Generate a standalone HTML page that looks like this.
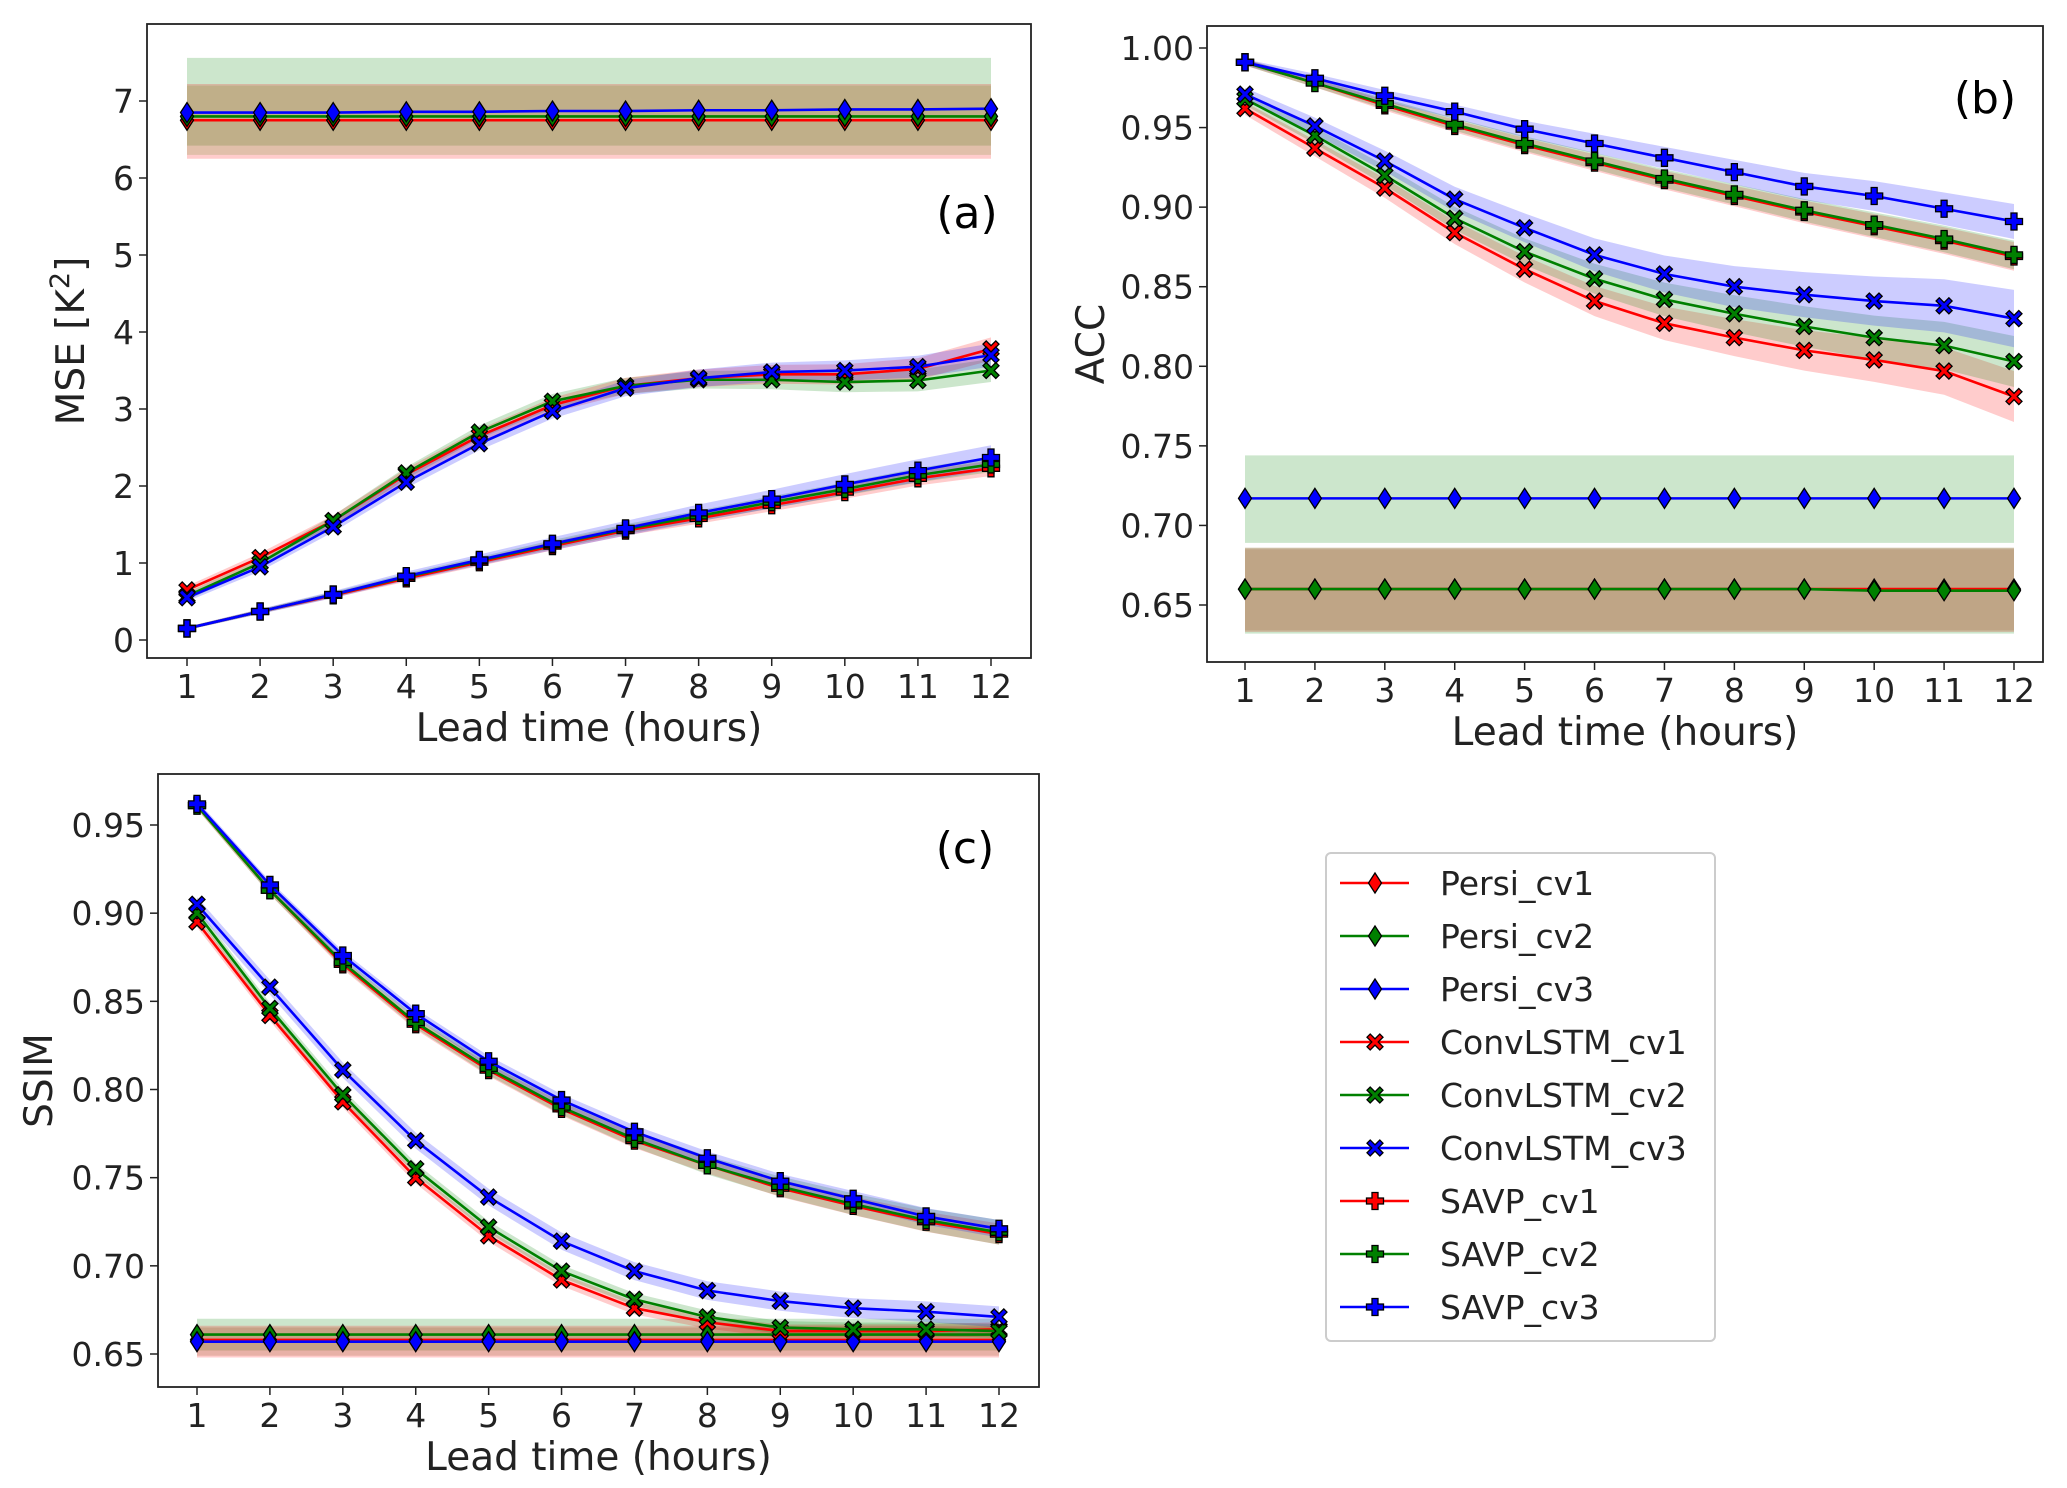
<!DOCTYPE html>
<html><head><meta charset="utf-8"><style>
html,body{margin:0;padding:0;background:#fff;}
svg{display:block;font-family:"DejaVu Sans","Liberation Sans",sans-serif;}
</style></head><body>
<svg id="fig" width="2067" height="1488" viewBox="0 0 2067 1488"></svg>
<script>
const hours=[1,2,3,4,5,6,7,8,9,10,11,12];
// (a) MSE
const mseTicks=[0,1,2,3,4,5,6,7];
const msePersi1=[6.75,6.75,6.75,6.75,6.75,6.75,6.75,6.75,6.75,6.75,6.75,6.75];
const msePersi2=[6.8,6.8,6.8,6.8,6.8,6.8,6.8,6.8,6.8,6.8,6.8,6.8];
const msePersi3=[6.85,6.85,6.85,6.86,6.86,6.87,6.87,6.88,6.88,6.89,6.89,6.9];
const mseConv1=[0.65,1.07,1.55,2.15,2.65,3.05,3.3,3.4,3.45,3.45,3.52,3.78];
const mseConv2=[0.57,1.0,1.55,2.17,2.7,3.1,3.3,3.38,3.38,3.35,3.37,3.5];
const mseConv3=[0.55,0.95,1.47,2.05,2.55,2.97,3.27,3.4,3.48,3.5,3.55,3.7];
const mseSavp1=[0.15,0.37,0.58,0.8,1.01,1.22,1.42,1.58,1.75,1.92,2.1,2.23];
const mseSavp2=[0.15,0.37,0.59,0.82,1.03,1.24,1.44,1.61,1.79,1.96,2.14,2.28];
const mseSavp3=[0.15,0.37,0.59,0.83,1.04,1.25,1.45,1.65,1.83,2.02,2.2,2.37];
// (b) ACC
const accTicks=[0.65,0.70,0.75,0.80,0.85,0.90,0.95,1.00];
const accPersi1=[0.660,0.660,0.660,0.660,0.660,0.660,0.660,0.660,0.660,0.660,0.660,0.660];
const accPersi2=[0.660,0.660,0.660,0.660,0.660,0.660,0.660,0.660,0.660,0.659,0.659,0.659];
const accPersi3=[0.717,0.717,0.717,0.717,0.717,0.717,0.717,0.717,0.717,0.717,0.717,0.717];
const accConv1=[0.962,0.937,0.912,0.884,0.861,0.841,0.827,0.818,0.810,0.804,0.797,0.781];
const accConv2=[0.968,0.945,0.920,0.893,0.872,0.855,0.842,0.833,0.825,0.818,0.813,0.803];
const accConv3=[0.971,0.951,0.929,0.905,0.887,0.870,0.858,0.850,0.845,0.841,0.838,0.830];
const accSavp1=[0.991,0.978,0.964,0.951,0.939,0.928,0.917,0.907,0.897,0.888,0.879,0.869];
const accSavp2=[0.991,0.978,0.965,0.952,0.940,0.929,0.918,0.908,0.898,0.889,0.880,0.870];
const accSavp3=[0.991,0.981,0.970,0.960,0.949,0.940,0.931,0.922,0.913,0.907,0.899,0.891];
// (c) SSIM
const ssimTicks=[0.65,0.70,0.75,0.80,0.85,0.90,0.95];
const ssimPersi1=[0.658,0.658,0.658,0.658,0.658,0.658,0.658,0.658,0.658,0.658,0.658,0.658];
const ssimPersi2=[0.661,0.661,0.661,0.661,0.661,0.661,0.661,0.661,0.661,0.661,0.661,0.661];
const ssimPersi3=[0.657,0.657,0.657,0.657,0.657,0.657,0.657,0.657,0.657,0.657,0.657,0.657];
const ssimConv1=[0.895,0.842,0.793,0.750,0.717,0.692,0.676,0.668,0.663,0.663,0.663,0.664];
const ssimConv2=[0.900,0.846,0.797,0.755,0.722,0.697,0.681,0.671,0.665,0.664,0.664,0.663];
const ssimConv3=[0.905,0.858,0.811,0.771,0.739,0.714,0.697,0.686,0.680,0.676,0.674,0.671];
const ssimSavp1=[0.961,0.913,0.871,0.837,0.811,0.789,0.771,0.757,0.744,0.734,0.725,0.718];
const ssimSavp2=[0.961,0.913,0.872,0.838,0.812,0.790,0.772,0.757,0.745,0.735,0.726,0.719];
const ssimSavp3=[0.962,0.916,0.876,0.843,0.816,0.794,0.776,0.761,0.748,0.738,0.728,0.721];
const legendLabels=["Persi_cv1","Persi_cv2","Persi_cv3","ConvLSTM_cv1","ConvLSTM_cv2","ConvLSTM_cv3","SAVP_cv1","SAVP_cv2","SAVP_cv3"];

const NS="http://www.w3.org/2000/svg";
const svg=document.getElementById('fig');
const COL=['#ff0000','#008000','#0000ff'];
function el(tag,attrs,parent){const e=document.createElementNS(NS,tag);for(const k in attrs)e.setAttribute(k,attrs[k]);(parent||svg).appendChild(e);return e;}

function marker(g,type,cx,cy,color,s){
  let m;
  if(type==='d'){
    m=el('polygon',{points:`${cx},${cy-s} ${cx+s*0.65},${cy} ${cx},${cy+s} ${cx-s*0.65},${cy}`,fill:color,stroke:'#000','stroke-width':1.3},g);
  }else if(type==='X'){
    const a=s*0.32,b=s*0.8;
    const p=[[-b,-b+a],[-b+a,-b],[0,-a],[b-a,-b],[b,-b+a],[a,0],[b,b-a],[b-a,b],[0,a],[-b+a,b],[-b,b-a],[-a,0]];
    m=el('polygon',{points:p.map(q=>`${cx+q[0]},${cy+q[1]}`).join(' '),fill:color,stroke:'#000','stroke-width':1.3},g);
  }else{
    const a=s*0.3,b=s*0.85;
    const p=[[-a,-b],[a,-b],[a,-a],[b,-a],[b,a],[a,a],[a,b],[-a,b],[-a,a],[-b,a],[-b,-a],[-a,-a]];
    m=el('polygon',{points:p.map(q=>`${cx+q[0]},${cy+q[1]}`).join(' '),fill:color,stroke:'#000','stroke-width':1.3},g);
  }
  
  
  return m;
}

function panel(cfg){
  const g=el('g',{});
  
  
  const xs=v=>cfg.x1+(v-1)*(cfg.x12-cfg.x1)/11;
  const ys=v=>cfg.yA+(v-cfg.vA)*(cfg.yB-cfg.yA)/(cfg.vB-cfg.vA);
  cfg.bands.forEach(b=>{
    const up=b.lo.map((v,i)=>`${xs(hours[i])},${ys(b.hi[i])}`);
    const dn=b.lo.map((v,i)=>`${xs(hours[i])},${ys(v)}`).reverse();
    const p=el('polygon',{points:up.concat(dn).join(' '),fill:b.color,'fill-opacity':0.2,stroke:'none'},g);
    
    
  });
  cfg.series.forEach(s=>{
    const sg=el('g',{},g);
    
    
    el('polyline',{points:s.vals.map((v,i)=>`${xs(hours[i])},${ys(v)}`).join(' '),fill:'none',stroke:s.color,'stroke-width':2.6},sg);
    s.vals.forEach((v,i)=>marker(sg,s.m,xs(hours[i]),ys(v),s.color,10));
  });
  const fr=el('rect',{x:cfg.L,y:cfg.T,width:cfg.R-cfg.L,height:cfg.B-cfg.T,fill:'none',stroke:'#222','stroke-width':1.8},g);
  
  
  hours.forEach(h=>{
    el('line',{x1:xs(h),x2:xs(h),y1:cfg.B,y2:cfg.B+8,stroke:'#222','stroke-width':1.5},g);
    const t=el('text',{x:xs(h),y:cfg.B+40,'font-size':33,'text-anchor':'middle',fill:'#222'},g);
    t.textContent=h;
    
    
  });
  cfg.ticks.forEach(v=>{
    el('line',{x1:cfg.L-8,x2:cfg.L,y1:ys(v),y2:ys(v),stroke:'#222','stroke-width':1.5},g);
    const t=el('text',{x:cfg.L-13,y:ys(v)+12,'font-size':33,'text-anchor':'end',fill:'#222'},g);
    t.textContent=cfg.fmt(v);
    
    
  });
  const xl=el('text',{x:(cfg.L+cfg.R)/2,y:cfg.B+83,'font-size':39,'text-anchor':'middle',fill:'#222'},g);
  xl.textContent='Lead time (hours)';
  
  
  const yl=el('text',{x:0,y:0,'font-size':39,'text-anchor':'middle',fill:'#222',transform:`translate(${cfg.ylx},${(cfg.T+cfg.B)/2}) rotate(-90)`},g);
  yl.innerHTML=cfg.ylabel;
  
  
  const pl=el('text',{x:cfg.plx,y:cfg.ply,'font-size':44,'text-anchor':'middle',fill:'#000'},g);
  pl.textContent=cfg.panel;
  
  
}
function band(vals,w0,w1,color){return {color,lo:vals.map((v,i)=>v-(w0+(w1-w0)*i/11)),hi:vals.map((v,i)=>v+(w0+(w1-w0)*i/11))};}
function bandAbs(lo,hi,color){return {color,lo:hours.map(()=>lo),hi:hours.map(()=>hi)};}
function ser(arrs,m,names){return arrs.map((a,i)=>({vals:a,m,color:COL[i],label:names[i]}));}

panel({name:'panel-a-mse',L:147,R:1031,T:24,B:658,x1:187,x12:991,vA:0,yA:640,vB:7,yB:101,ticks:mseTicks,fmt:v=>String(v),
  ylabel:'MSE [K<tspan dy="-15" font-size="27">2</tspan><tspan dy="15">]</tspan>',ylx:84,panel:'(a)',plx:967,ply:228,
  bands:[bandAbs(6.42,7.56,'#008000'),bandAbs(6.25,7.22,'#ff0000'),bandAbs(6.3,7.2,'#6b8e23'),
    band(mseConv2,0.05,0.15,'#008000'),band(mseConv1,0.05,0.15,'#ff0000'),band(mseConv3,0.05,0.15,'#0000ff'),
    band(mseSavp1,0.02,0.1,'#ff0000'),band(mseSavp2,0.02,0.1,'#008000'),band(mseSavp3,0.02,0.16,'#0000ff')],
  series:[...ser([msePersi1,msePersi2,msePersi3],'d',legendLabels.slice(0,3)),...ser([mseConv1,mseConv2,mseConv3],'X',legendLabels.slice(3,6)),...ser([mseSavp1,mseSavp2,mseSavp3],'P',legendLabels.slice(6,9))]});

panel({name:'panel-b-acc',L:1207,R:2043,T:26,B:662,x1:1245,x12:2014,vA:0.65,yA:605,vB:1.0,yB:48,ticks:accTicks,fmt:v=>v.toFixed(2),
  ylabel:'ACC',ylx:1104,panel:'(b)',plx:1985,ply:113,
  bands:[bandAbs(0.689,0.744,'#008000'),bandAbs(0.633,0.686,'#ff0000'),bandAbs(0.632,0.686,'#008000'),bandAbs(0.634,0.685,'#8b4513'),
    band(accConv1,0.004,0.016,'#ff0000'),band(accConv2,0.004,0.016,'#008000'),band(accConv3,0.004,0.018,'#0000ff'),
    band(accSavp1,0.002,0.009,'#ff0000'),band(accSavp2,0.002,0.009,'#008000'),band(accSavp3,0.002,0.011,'#0000ff')],
  series:[...ser([accPersi1,accPersi2,accPersi3],'d',legendLabels.slice(0,3)),...ser([accConv1,accConv2,accConv3],'X',legendLabels.slice(3,6)),...ser([accSavp1,accSavp2,accSavp3],'P',legendLabels.slice(6,9))]});

panel({name:'panel-c-ssim',L:158,R:1039,T:774,B:1387,x1:197,x12:999,vA:0.65,yA:1354,vB:0.95,yB:825,ticks:ssimTicks,fmt:v=>v.toFixed(2),
  ylabel:'SSIM',ylx:52,panel:'(c)',plx:965,ply:863,
  bands:[bandAbs(0.652,0.670,'#008000'),bandAbs(0.648,0.666,'#ff0000'),bandAbs(0.649,0.665,'#8b4513'),
    band(ssimConv1,0.003,0.004,'#ff0000'),band(ssimConv2,0.003,0.004,'#008000'),band(ssimConv3,0.004,0.006,'#0000ff'),
    band(ssimSavp1,0.002,0.006,'#ff0000'),band(ssimSavp2,0.002,0.007,'#008000'),band(ssimSavp3,0.002,0.005,'#0000ff')],
  series:[...ser([ssimPersi1,ssimPersi2,ssimPersi3],'d',legendLabels.slice(0,3)),...ser([ssimConv1,ssimConv2,ssimConv3],'X',legendLabels.slice(3,6)),...ser([ssimSavp1,ssimSavp2,ssimSavp3],'P',legendLabels.slice(6,9))]});

const lg=el('g',{});


el('rect',{x:1326,y:853,width:389,height:488,rx:5,fill:'#fff',stroke:'#ccc','stroke-width':2},lg);
const mk=['d','d','d','X','X','X','P','P','P'];
legendLabels.forEach((lab,i)=>{
  const y=883+i*53;
  const e=el('g',{},lg);
  
  
  el('line',{x1:1340,x2:1409,y1:y,y2:y,stroke:COL[i%3],'stroke-width':2.6},e);
  marker(e,mk[i],1375,y,COL[i%3],10);
  const t=el('text',{x:1440,y:y+12,'font-size':33,fill:'#222'},e);
  t.textContent=lab;
});
</script>
</body></html>
